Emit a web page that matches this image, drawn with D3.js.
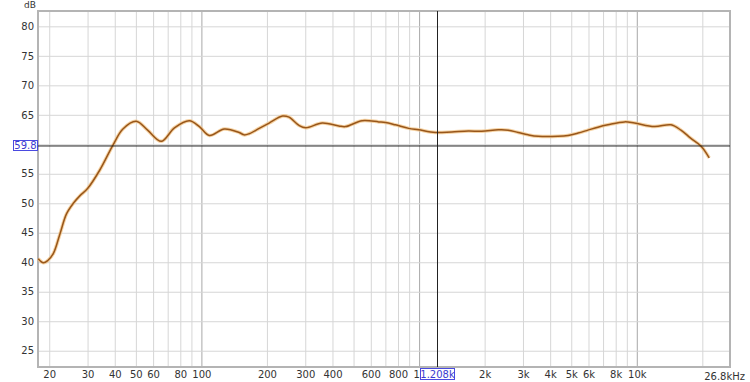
<!DOCTYPE html>
<html>
<head>
<meta charset="utf-8">
<script src="https://cdn.jsdelivr.net/npm/d3@7"></script>
<style>
  html, body { margin: 0; padding: 0; background: #fff; }
  svg text { font-family: "DejaVu Sans", sans-serif; fill: #333; }
</style>
</head>
<body>
<div id="graph"></div>
<script>
// frequency response (Hz, dB)
const FREQS = [17.8, 18.8, 19.7, 20.9, 22.4, 24.0, 25.8, 27.7, 30, 34.1, 39.3, 43.6,
  50.2, 56.6, 65.4, 75.2, 88.1, 97.9, 108.8, 127.4, 149.2, 157.1, 165.8, 184.3,
  204.8, 235.6, 252.7, 280.9, 301.5, 359.1, 428.1, 459.5, 547.3, 652.5, 700.3,
  778.3, 895.6, 995, 1186, 1413, 1684, 1939, 2311, 2568, 2853, 3171, 3524, 4348,
  4834, 5370, 5966, 6629, 7367, 8784, 9761, 12050, 14360, 15950, 17730, 19700, 21510];
const LEVELS = [40.6, 39.9, 40.3, 41.5, 44.8, 48.2, 50.0, 51.3, 52.5, 55.6, 59.9, 62.6,
  63.9, 62.4, 60.5, 62.8, 64.0, 63.0, 61.5, 62.6, 62.0, 61.6, 61.8, 62.7,
  63.6, 64.8, 64.6, 63.2, 62.8, 63.6, 63.1, 63.0, 64.0, 63.8, 63.7,
  63.3, 62.7, 62.45, 62.0, 62.1, 62.25, 62.2, 62.45, 62.4, 62.0, 61.6, 61.35, 61.35,
  61.5, 61.9, 62.4, 62.9, 63.3, 63.8, 63.6, 63.0, 63.3, 62.4, 61.0, 59.7, 57.7];

const X_GRID = [20, 30, 40, 50, 60, 70, 80, 90, 100, 200, 300, 400, 500, 600, 700, 800, 900,
  1000, 2000, 3000, 4000, 5000, 6000, 7000, 8000, 9000, 10000, 20000];
const X_DECADES = [100, 1000, 10000];
const X_TICKS = [20, 30, 40, 50, 60, 80, 100, 200, 300, 400, 600, 800, 1000,
  2000, 3000, 4000, 5000, 6000, 8000, 10000];
const X_LABELS = ['20', '30', '40', '50', '60', '80', '100', '200', '300', '400', '600', '800', '1',
  '2k', '3k', '4k', '5k', '6k', '8k', '10k'];
const Y_GRID = [25, 30, 35, 40, 45, 50, 55, 60, 65, 70, 75, 80];
// 60 sits under the cursor readout, so it has no label
const Y_TICKS = [25, 30, 35, 40, 45, 50, 55, 65, 70, 75, 80];

const CURSOR_DB = 59.8;
const CURSOR_HZ = 1208;

const WIDTH = 750, HEIGHT = 382;
const LEFT = 38, RIGHT = 730, TOP = 11, BOTTOM = 367;

const svg = d3.select('#graph')
  .append('svg')
    .attr('width', WIDTH)
    .attr('height', HEIGHT);

const x = d3.scaleLog()
  .domain([17.76, 26800])
  .range([LEFT, RIGHT]);

const y = d3.scaleLinear()
  .domain([22.24, 82.6])
  .range([BOTTOM, TOP]);

// grid
svg.append('g')
  .attr('transform', `translate(0,${BOTTOM})`)
  .call(d3.axisBottom(x).tickValues(X_GRID).tickSize(-(BOTTOM - TOP)).tickFormat(''))
  .call(g => g.select('.domain').remove())
  .call(g => g.selectAll('.tick line')
     .attr('stroke', d => X_DECADES.includes(d) ? '#a8a8a8' : '#d6d6d6'));

svg.append('g')
  .attr('transform', `translate(${LEFT},0)`)
  .call(d3.axisLeft(y).tickValues(Y_GRID).tickSize(-(RIGHT - LEFT)).tickFormat(''))
  .call(g => g.select('.domain').remove())
  .call(g => g.selectAll('.tick line').attr('stroke', '#d6d6d6'));

// frame
svg.append('rect')
  .attr('x', LEFT)
  .attr('y', TOP)
  .attr('width', RIGHT - LEFT)
  .attr('height', BOTTOM - TOP)
  .attr('fill', 'none')
  .attr('stroke', '#b4b4b4')
  .attr('stroke-width', 2);

// tick labels
svg.append('g')
  .attr('transform', `translate(${LEFT - 4},0)`)
  .call(d3.axisLeft(y).tickValues(Y_TICKS).tickSize(0).tickPadding(0))
  .call(g => g.select('.domain').remove())
  .call(g => g.selectAll('text')
     .style('font-family', '"DejaVu Sans", sans-serif')
     .attr('font-size', 10).attr('fill', '#333'));

svg.append('g')
  .attr('transform', `translate(0,${BOTTOM + 4})`)
  .call(d3.axisBottom(x).tickValues(X_TICKS).tickSize(0).tickPadding(0)
     .tickFormat((d, i) => X_LABELS[i]))
  .call(g => g.select('.domain').remove())
  .call(g => g.selectAll('text')
     .style('font-family', '"DejaVu Sans", sans-serif')
     .attr('font-size', 10).attr('fill', '#333'))
  .call(g => g.selectAll('.tick').filter(d => d === 1000)
     .select('text').attr('dx', -3));

svg.append('text')
  .attr('x', RIGHT + 15)
  .attr('y', BOTTOM + 13)
  .attr('text-anchor', 'end')
  .attr('font-size', 10)
  .text('26.8kHz');

svg.append('text')
  .attr('x', 24)
  .attr('y', 8)
  .attr('font-size', 9)
  .text('dB');

// response curve
const pts = FREQS.map((f, i) => [x(f), y(LEVELS[i])]);
const line = d3.line().curve(d3.curveCatmullRom.alpha(0.5));

svg.append('path')
  .attr('d', line(pts))
  .attr('fill', 'none')
  .attr('stroke', '#f2c78c')
  .attr('stroke-opacity', 0.8)
  .attr('stroke-width', 3.5)
  .attr('stroke-linejoin', 'round');

svg.append('path')
  .attr('d', line(pts))
  .attr('fill', 'none')
  .attr('stroke', '#98561a')
  .attr('stroke-width', 1.5)
  .attr('stroke-linejoin', 'round');

// cursors
svg.append('line')
  .attr('x1', LEFT).attr('x2', RIGHT)
  .attr('y1', y(CURSOR_DB) + 0.5).attr('y2', y(CURSOR_DB) + 0.5)
  .attr('stroke', '#222')
  .attr('stroke-width', 1);

svg.append('line')
  .attr('x1', Math.round(x(CURSOR_HZ)) + 0.5).attr('x2', Math.round(x(CURSOR_HZ)) + 0.5)
  .attr('y1', TOP).attr('y2', BOTTOM)
  .attr('stroke', '#222')
  .attr('stroke-width', 1);

const yBox = svg.append('g')
  .attr('transform', `translate(13.5,${Math.round(y(CURSOR_DB)) - 4.5})`);
yBox.append('rect')
  .attr('width', 24).attr('height', 10)
  .attr('fill', '#fff')
  .attr('stroke', '#4a4ae0');
yBox.append('text')
  .attr('x', 12).attr('y', 8.5)
  .attr('text-anchor', 'middle')
  .attr('font-size', 10)
  .style('fill', '#3b3bd0')
  .text(CURSOR_DB.toFixed(1));

const xBox = svg.append('g')
  .attr('transform', `translate(420.5,368.5)`);
xBox.append('rect')
  .attr('width', 34).attr('height', 11)
  .attr('fill', '#fff')
  .attr('stroke', '#4a4ae0');
xBox.append('text')
  .attr('x', 17).attr('y', 9.5)
  .attr('text-anchor', 'middle')
  .attr('font-size', 10)
  .style('fill', '#3b3bd0')
  .text((CURSOR_HZ / 1000).toFixed(3) + 'k');
</script>
</body>
</html>
